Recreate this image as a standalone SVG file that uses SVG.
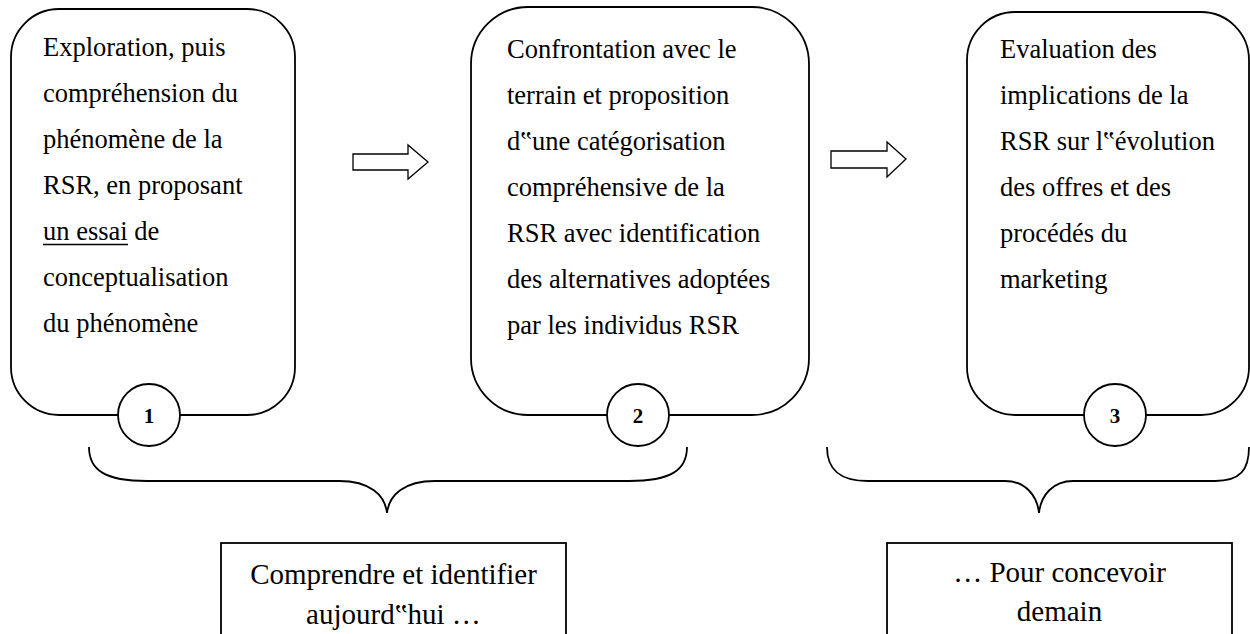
<svg xmlns="http://www.w3.org/2000/svg" width="1250" height="634" viewBox="0 0 1250 634">
<style>
.box{fill:#fff;stroke:#000;stroke-width:1.8}
.num{fill:#fff;stroke:#000;stroke-width:1.8}
.arr{fill:#fff;stroke:#000;stroke-width:1.3}
.brace{fill:none;stroke:#000;stroke-width:1.8}
</style>
<rect width="1250" height="634" fill="#fff"/>
<g id="node1">
<rect class="box" x="11" y="9" width="284" height="406" rx="48" ry="48"/>
<text font-family="Liberation Serif" font-size="26.5" x="43" y="56">Exploration, puis</text>
<text font-family="Liberation Serif" font-size="26.5" x="43" y="102">compréhension du</text>
<text font-family="Liberation Serif" font-size="26.5" x="43" y="148">phénomène de la</text>
<text font-family="Liberation Serif" font-size="26.5" x="43" y="194">RSR, en proposant</text>
<text font-family="Liberation Serif" font-size="26.5" x="43" y="240">un essai de</text>
<line x1="43" y1="244.5" x2="128" y2="244.5" stroke="#000" stroke-width="1.3"/>
<text font-family="Liberation Serif" font-size="26.5" x="43" y="286">conceptualisation</text>
<text font-family="Liberation Serif" font-size="26.5" x="43" y="332">du phénomène</text>
<circle class="num" cx="149" cy="415" r="31"/>
<text font-family="Liberation Serif" font-size="21" font-weight="bold" text-anchor="middle" x="149" y="423">1</text>
</g>
<g id="node2">
<rect class="box" x="471" y="7" width="338" height="408" rx="57" ry="57"/>
<text font-family="Liberation Serif" font-size="26.5" x="507" y="58">Confrontation avec le</text>
<text font-family="Liberation Serif" font-size="26.5" x="507" y="104">terrain et proposition</text>
<text font-family="Liberation Serif" font-size="26.5" x="507" y="150">d‟une catégorisation</text>
<text font-family="Liberation Serif" font-size="26.5" x="507" y="196">compréhensive de la</text>
<text font-family="Liberation Serif" font-size="26.5" x="507" y="242">RSR avec identification</text>
<text font-family="Liberation Serif" font-size="26.5" x="507" y="288">des alternatives adoptées</text>
<text font-family="Liberation Serif" font-size="26.5" x="507" y="334">par les individus RSR</text>
<circle class="num" cx="638" cy="415" r="31"/>
<text font-family="Liberation Serif" font-size="21" font-weight="bold" text-anchor="middle" x="638" y="423">2</text>
</g>
<g id="node3">
<rect class="box" x="967" y="12" width="282" height="403" rx="48" ry="48"/>
<text font-family="Liberation Serif" font-size="26.5" x="1000" y="58">Evaluation des</text>
<text font-family="Liberation Serif" font-size="26.5" x="1000" y="104">implications de la</text>
<text font-family="Liberation Serif" font-size="26.5" x="1000" y="150">RSR sur l‟évolution</text>
<text font-family="Liberation Serif" font-size="26.5" x="1000" y="196">des offres et des</text>
<text font-family="Liberation Serif" font-size="26.5" x="1000" y="242">procédés du</text>
<text font-family="Liberation Serif" font-size="26.5" x="1000" y="288">marketing</text>
<circle class="num" cx="1115" cy="415" r="31"/>
<text font-family="Liberation Serif" font-size="21" font-weight="bold" text-anchor="middle" x="1115" y="423">3</text>
</g>
<g id="nodeA">
<rect class="box" x="221" y="543" width="345" height="100"/>
<text font-family="Liberation Serif" font-size="29" text-anchor="middle" x="393.5" y="584">Comprendre et identifier</text>
<text font-family="Liberation Serif" font-size="29" text-anchor="middle" x="393.5" y="624">aujourd‟hui …</text>
</g>
<g id="nodeB">
<rect class="box" x="887" y="543" width="345" height="100"/>
<text font-family="Liberation Serif" font-size="29" text-anchor="middle" x="1059.5" y="582">… Pour concevoir</text>
<text font-family="Liberation Serif" font-size="29" text-anchor="middle" x="1059.5" y="621">demain</text>
</g>
<g id="connectors">
<polygon class="arr" points="353,154 408,154 408,145 428,162 408,179 408,170 353,170"/>
<polygon class="arr" points="831,151 887,151 887,142 906,159 887,177 887,168 831,168"/>
<path class="brace" d="M89,447 C89,470 105,481 147,481 L339,481 C370,481 385,495 387,513 C389,495 404,481 435,481 L629,481 C671,481 687,470 687,447"/>
<path class="brace" d="M827,447 C827,470 840,481 868,481 L1005,481 C1025,481 1037,495 1039,513 C1041,495 1053,481 1073,481 L1215,481 C1240,481 1249,470 1249,447"/>
</g>
</svg>
